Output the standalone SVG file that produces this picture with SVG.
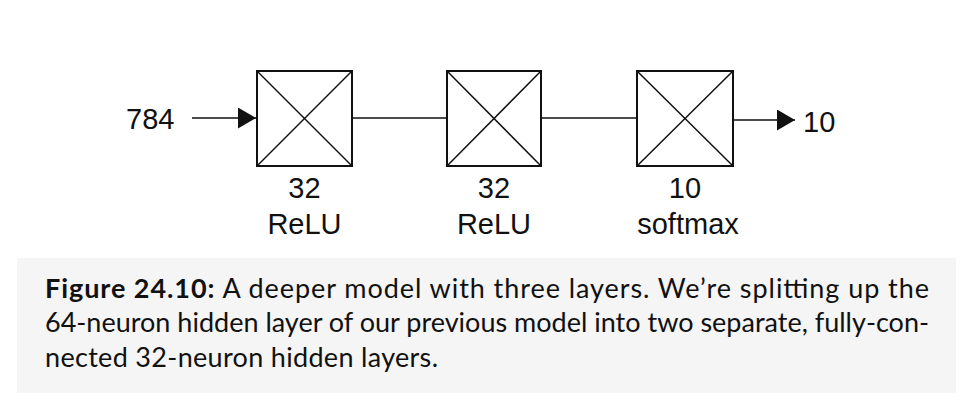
<svg xmlns="http://www.w3.org/2000/svg" width="976" height="413" viewBox="0 0 976 413">
<style>
.box{fill:#fff;stroke:#111;stroke-width:2}
.diag{stroke:#111;stroke-width:1.5}
.edge{stroke:#111;stroke-width:1.6;fill:none}
.lbl{font-family:"Liberation Sans",Arial,sans-serif;font-size:29px;fill:#111}
.cap{font-family:Lato,"Open Sans",sans-serif;font-size:27px;fill:#111}
</style>
<defs>
<marker id="arr" markerWidth="18" markerHeight="21" refX="18" refY="10.5" orient="auto" markerUnits="userSpaceOnUse">
<path d="M0,0 L18,10.5 L0,21 Z" fill="#111"/>
</marker>
</defs>
<rect width="976" height="413" fill="#fff"/>
<g id="connectors">
<line class="edge" x1="192" y1="118" x2="256" y2="118" marker-end="url(#arr)"/>
<line class="edge" x1="352" y1="118" x2="447" y2="118"/>
<line class="edge" x1="541" y1="118" x2="637" y2="118"/>
<line class="edge" x1="733" y1="120" x2="795" y2="120" marker-end="url(#arr)"/>
</g>
<g id="input">
<text class="lbl" x="126" y="129">784</text>
</g>
<g id="layer1">
<rect class="box" x="257" y="71" width="95" height="95"/>
<line class="diag" x1="257" y1="71" x2="352" y2="166"/>
<line class="diag" x1="352" y1="71" x2="257" y2="166"/>
<text class="lbl" x="304.5" y="198" text-anchor="middle">32</text>
<text class="lbl" x="304.5" y="234" text-anchor="middle">ReLU</text>
</g>
<g id="layer2">
<rect class="box" x="447" y="71" width="94" height="95"/>
<line class="diag" x1="447" y1="71" x2="541" y2="166"/>
<line class="diag" x1="541" y1="71" x2="447" y2="166"/>
<text class="lbl" x="494" y="198" text-anchor="middle">32</text>
<text class="lbl" x="494" y="234" text-anchor="middle">ReLU</text>
</g>
<g id="layer3">
<rect class="box" x="637" y="71" width="96" height="95"/>
<line class="diag" x1="637" y1="71" x2="733" y2="166"/>
<line class="diag" x1="733" y1="71" x2="637" y2="166"/>
<text class="lbl" x="685" y="198" text-anchor="middle">10</text>
<text class="lbl" x="688" y="234" text-anchor="middle">softmax</text>
</g>
<g id="output">
<text class="lbl" x="803" y="132">10</text>
</g>
<g id="caption">
<rect x="17" y="258" width="939" height="135" fill="#f5f5f5"/>
<text class="cap" x="45" y="298" textLength="884" lengthAdjust="spacing"><tspan font-weight="bold">Figure 24.10:</tspan> A deeper model with three layers. We’re splitting up the</text>
<text class="cap" x="45" y="332" textLength="884" lengthAdjust="spacing">64-neuron hidden layer of our previous model into two separate, fully-con-</text>
<text class="cap" x="45" y="367" textLength="393" lengthAdjust="spacing">nected 32-neuron hidden layers.</text>
</g>
</svg>
